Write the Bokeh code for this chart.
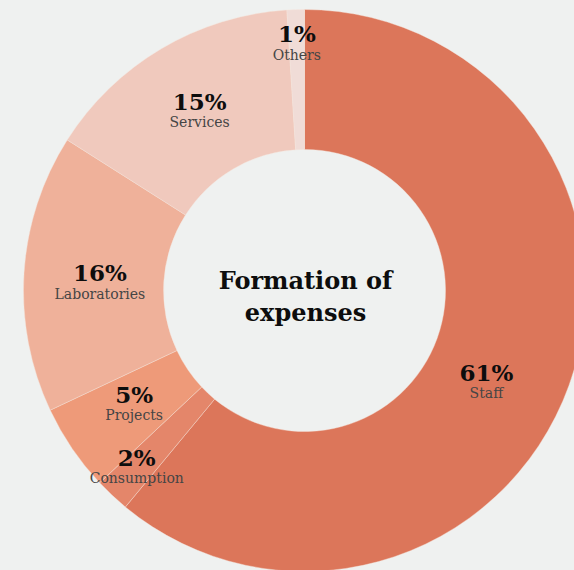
import math
from bokeh.plotting import figure
from bokeh.models import Range1d, ColumnDataSource, GlobalInlineStyleSheet
from bokeh.core.properties import value
from bokeh.embed import file_html
from bokeh.resources import INLINE

# ---- data ----
categories = ["Staff", "Consumption", "Projects", "Laboratories", "Services", "Others"]
shares = [61, 2, 5, 16, 15, 1]
colors = ["#dc765a", "#e4866a", "#ee9a79", "#efb19a", "#f0c9bd", "#f0dcd7"]
title_lines = ["Formation of", "expenses"]

# ---- layout / style ----
BG = "#eff1f0"
W, H = 574, 570
CX, CY = 304, 280          # donut centre (data units = px)
R_OUT, R_IN = 281, 141
R_LABEL, R_LABEL_SMALL = 206, 245
# small manual nudges (px, right / up) for label blocks
nudges = {"Staff": (-12, -24), "Laboratories": (1, -7)}

total = float(sum(shares))
starts, ends, lx, ly, pct = [], [], [], [], []
cum = 0.0
for cat, s in zip(categories, shares):
    f0 = cum / total
    f1 = (cum + s) / total
    cum += s
    starts.append(math.pi / 2 - 2 * math.pi * f0)
    ends.append(math.pi / 2 - 2 * math.pi * f1)
    mid = 2 * math.pi * (f0 + f1) / 2
    r = R_LABEL_SMALL if s < 3 else R_LABEL
    dx, dy = nudges.get(cat, (0, 0))
    lx.append(CX + r * math.sin(mid) + dx)
    ly.append(CY + r * math.cos(mid) + dy)
    pct.append(f"{s}%")

src = ColumnDataSource(dict(
    cat=categories, start=starts, end=ends, color=colors,
    lx=lx, ly_pct=[y + 12 for y in ly], ly_name=[y - 9 for y in ly], pct=pct,
))

p = figure(width=W, height=H, x_range=Range1d(0, W), y_range=Range1d(0, H),
           output_backend="svg", toolbar_location=None,
           x_axis_location=None, y_axis_location=None,
           min_border=0, background_fill_color=BG, border_fill_color=BG,
           outline_line_color=None)
p.grid.visible = False
p.stylesheets = [GlobalInlineStyleSheet(css="html, body { background: #eff1f0; }")]

p.annular_wedge(x=CX, y=CY, inner_radius=R_IN, outer_radius=R_OUT,
                start_angle="start", end_angle="end", direction="clock",
                fill_color="color", line_color="#f6e4dc", line_width=0.6,
                line_alpha=0.7, source=src)

p.text(x="lx", y="ly_pct", text="pct", source=src,
       text_font=value("DejaVu Serif"), text_font_style="bold",
       text_font_size="23px", text_align="center", text_baseline="alphabetic",
       text_color="#0d0d0d")
p.text(x="lx", y="ly_name", text="cat", source=src,
       text_font=value("DejaVu Serif"), text_font_size="14px",
       text_align="center", text_baseline="alphabetic", text_color="#454545")

p.text(x=[CX + 1, CX + 1], y=[CY + 10, CY - 22], text=title_lines,
       text_font=value("DejaVu Serif"), text_font_style="bold",
       text_font_size="24px", text_align="center", text_baseline="alphabetic",
       text_color="#0d0d0d")

open("out.html", "w").write(file_html(p, INLINE))
